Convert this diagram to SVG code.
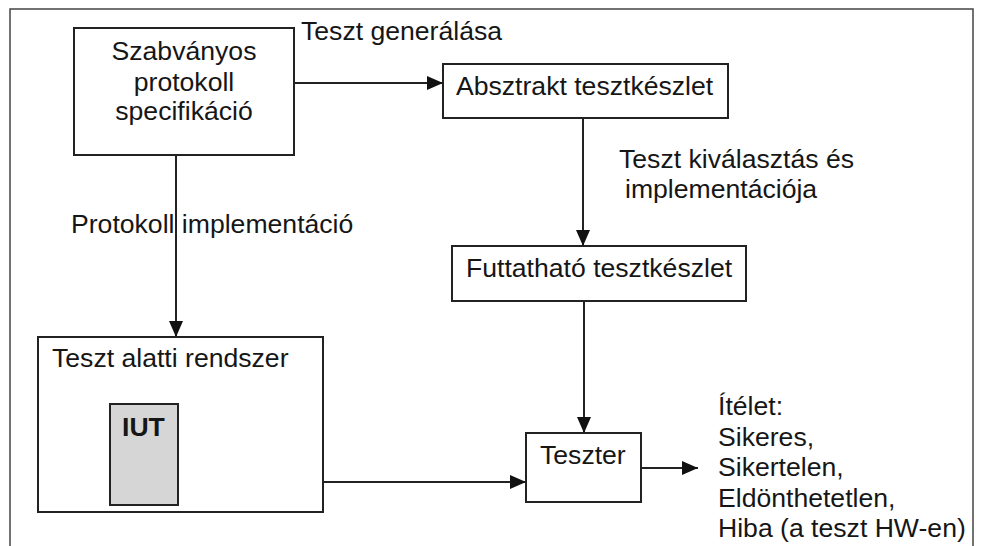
<svg xmlns="http://www.w3.org/2000/svg" width="981" height="546" viewBox="0 0 981 546">
<defs>
<marker id="arr" markerWidth="16" markerHeight="14" refX="16" refY="7" orient="auto" markerUnits="userSpaceOnUse">
<path d="M0,0 L16,7 L0,14 Z" fill="#111"/>
</marker>
<style>
.t{font-family:"Liberation Sans",Arial,sans-serif;font-size:26.6px;fill:#161616}
.b{fill:#fff;stroke:#222;stroke-width:2}
.c{fill:none;stroke:#222;stroke-width:2}
.frame{fill:none;stroke:#444;stroke-width:1.5}
</style>
</defs>
<rect width="981" height="546" fill="#fff"/>
<path class="frame" d="M10,546 L10,9 L973,9 L973,546"/>
<g id="connectors">
<path class="c" d="M294,83 L443,83" marker-end="url(#arr)"/>
<path class="c" d="M176,155 L176,337" marker-end="url(#arr)"/>
<path class="c" d="M583,118 L583,246" marker-end="url(#arr)"/>
<path class="c" d="M584,301 L584,433" marker-end="url(#arr)"/>
<path class="c" d="M323,482 L526,482" marker-end="url(#arr)"/>
<path class="c" d="M641,468 L698,468" marker-end="url(#arr)"/>
<text class="t" x="301" y="40">Teszt generálása</text>
<text class="t" x="71" y="233">Protokoll implementáció</text>
<text class="t" x="619" y="168">Teszt kiválasztás és</text>
<text class="t" x="625" y="198">implementációja</text>
</g>
<g id="spec">
<rect class="b" x="74" y="28" width="220" height="127"/>
<text class="t" text-anchor="middle" x="184" y="60">Szabványos</text>
<text class="t" text-anchor="middle" x="184" y="91">protokoll</text>
<text class="t" text-anchor="middle" x="184" y="120">specifikáció</text>
</g>
<g id="absztrakt">
<rect class="b" x="443" y="64" width="285" height="54"/>
<text class="t" x="456" y="95">Absztrakt tesztkészlet</text>
</g>
<g id="futtathato">
<rect class="b" x="452" y="246" width="294" height="55"/>
<text class="t" x="466" y="277">Futtatható tesztkészlet</text>
</g>
<g id="sut">
<rect class="b" x="38" y="337" width="285" height="175"/>
<text class="t" x="52" y="367">Teszt alatti rendszer</text>
</g>
<g id="iut">
<rect x="110" y="404" width="68" height="101" fill="#d6d6d6" stroke="#222" stroke-width="2"/>
<text class="t" x="122" y="436" style="font-weight:bold">IUT</text>
</g>
<g id="teszter">
<rect class="b" x="526" y="433" width="115" height="69"/>
<text class="t" x="540" y="464">Teszter</text>
</g>
<g id="itelet">
<text class="t" x="718" y="415">Ítélet:</text>
<text class="t" x="718" y="446">Sikeres,</text>
<text class="t" x="718" y="476">Sikertelen,</text>
<text class="t" x="718" y="507">Eldönthetetlen,</text>
<text class="t" x="718" y="537">Hiba (a teszt HW-en)</text>
</g>
</svg>
